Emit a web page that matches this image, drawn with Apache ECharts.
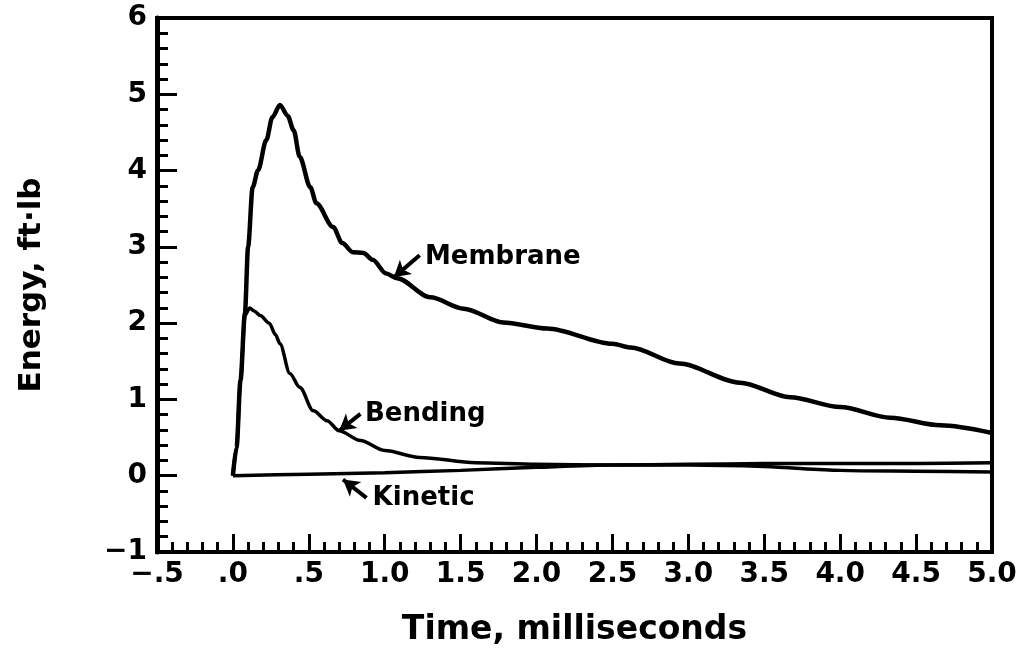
<!DOCTYPE html>
<html>
<head>
<meta charset="utf-8">
<script src="https://cdn.jsdelivr.net/npm/echarts@6/dist/echarts.min.js"></script>
<style>
  html, body { margin: 0; padding: 0; background: #fff; }
  #chart { width: 1033px; height: 658px; }
</style>
</head>
<body>
<div id="chart"></div>
<script>
// time in milliseconds, energy in ft-lb
const membraneT = [0, 0.024, 0.05, 0.079, 0.10, 0.13, 0.165, 0.22, 0.26, 0.31, 0.36, 0.40, 0.44, 0.51, 0.55, 0.66, 0.72, 0.79, 0.86, 0.92, 1.01, 1.08, 1.3, 1.52, 1.78, 2.07, 2.5, 2.62, 2.94, 3.34, 3.67, 4.0, 4.33, 4.66, 5.0]
const membraneE = [0, 0.37, 1.25, 2.13, 3.0, 3.78, 4.0, 4.4, 4.7, 4.86, 4.72, 4.53, 4.18, 3.78, 3.57, 3.26, 3.05, 2.93, 2.92, 2.83, 2.65, 2.59, 2.34, 2.19, 2.01, 1.93, 1.73, 1.68, 1.47, 1.22, 1.03, 0.9, 0.76, 0.66, 0.56]

const bendingT = [0, 0.024, 0.05, 0.08, 0.11, 0.14, 0.18, 0.24, 0.28, 0.31, 0.375, 0.44, 0.53, 0.62, 0.70, 0.84, 1.0, 1.23, 1.6, 2.0, 2.5, 3.0, 3.5, 4.0, 4.5, 5.0]
const bendingE = [0, 0.37, 1.25, 2.1, 2.2, 2.16, 2.1, 2.0, 1.85, 1.73, 1.34, 1.16, 0.85, 0.72, 0.59, 0.46, 0.33, 0.24, 0.17, 0.15, 0.14, 0.15, 0.16, 0.16, 0.16, 0.17]

const kineticT = [0, 0.5, 1.0, 1.5, 2.0, 2.5, 3.0, 3.5, 4.0, 4.5, 5.0]
const kineticE = [0, 0.02, 0.04, 0.07, 0.11, 0.14, 0.14, 0.12, 0.07, 0.06, 0.05]

const xTickLabels = { '-0.5': '\u2212.5', '0': '.0', '0.5': '.5' }
const yTickLabels = { '-1': '\u22121' }

const font = 'DejaVu Sans'

function pairs(ts, es) {
  return ts.map((t, i) => [t, es[i]])
}

function annotate(text, textAt, tail, tip) {
  return {
    markLine: {
      silent: true,
      symbol: ['none', 'arrow'],
      symbolSize: [14, 16],
      lineStyle: { color: '#000', width: 4, type: 'solid' },
      label: { show: false },
      data: [[{ coord: tail }, { coord: tip }]]
    },
    markPoint: {
      silent: true,
      symbol: 'circle',
      symbolSize: 0,
      label: {
        show: true,
        position: 'right',
        distance: 0,
        formatter: text,
        color: '#000',
        fontFamily: font,
        fontWeight: 'bold',
        fontSize: 26
      },
      data: [{ coord: textAt }]
    }
  }
}

const chart = echarts.init(document.getElementById('chart'))

chart.setOption({
  animation: false,
  backgroundColor: '#fff',
  grid: {
    left: 157, right: 41, top: 18, bottom: 106,
    show: true, borderColor: '#000', borderWidth: 4
  },
  xAxis: {
    type: 'value',
    min: -0.5, max: 5, interval: 0.5,
    name: 'Time, milliseconds',
    nameLocation: 'middle',
    nameGap: 62,
    nameTextStyle: { color: '#000', fontFamily: font, fontWeight: 'bold', fontSize: 33 },
    axisLine: { onZero: false, lineStyle: { color: '#000', width: 4 } },
    axisTick: { inside: true, length: 18, lineStyle: { color: '#000', width: 3 } },
    minorTick: { show: true, splitNumber: 5, length: 10, lineStyle: { color: '#000', width: 3 } },
    splitLine: { show: false },
    axisLabel: {
      color: '#000', fontFamily: font, fontWeight: 'bold', fontSize: 28, margin: 9,
      formatter: v => xTickLabels[String(v)] || v.toFixed(1)
    }
  },
  yAxis: {
    type: 'value',
    min: -1, max: 6, interval: 1,
    name: 'Energy, ft\u00b7lb',
    nameLocation: 'middle',
    nameGap: 110,
    nameTextStyle: { color: '#000', fontFamily: font, fontWeight: 'bold', fontSize: 31 },
    axisLine: { onZero: false, lineStyle: { color: '#000', width: 5 } },
    axisTick: { inside: true, length: 20, lineStyle: { color: '#000', width: 3 } },
    minorTick: { show: true, splitNumber: 5, length: 11, lineStyle: { color: '#000', width: 3 } },
    splitLine: { show: false },
    axisLabel: {
      color: '#000', fontFamily: font, fontWeight: 'bold', fontSize: 28, margin: 10,
      formatter: v => yTickLabels[String(v)] || String(v)
    }
  },
  series: [
    Object.assign({
      name: 'Membrane',
      type: 'line',
      data: pairs(membraneT, membraneE),
      showSymbol: false,
      smooth: 0.3,
      smoothMonotone: 'x',
      lineStyle: { color: '#000', width: 4.5 }
    }, annotate('Membrane', [1.265, 2.86], [1.23, 2.89], [1.06, 2.6])),
    Object.assign({
      name: 'Bending',
      type: 'line',
      data: pairs(bendingT, bendingE),
      showSymbol: false,
      smooth: 0.3,
      smoothMonotone: 'x',
      lineStyle: { color: '#000', width: 3.5 }
    }, annotate('Bending', [0.87, 0.8], [0.84, 0.81], [0.70, 0.59])),
    Object.assign({
      name: 'Kinetic',
      type: 'line',
      data: pairs(kineticT, kineticE),
      showSymbol: false,
      smooth: 0.3,
      lineStyle: { color: '#000', width: 3.5 }
    }, annotate('Kinetic', [0.92, -0.3], [0.88, -0.29], [0.725, -0.05]))
  ]
})
</script>
</body>
</html>
